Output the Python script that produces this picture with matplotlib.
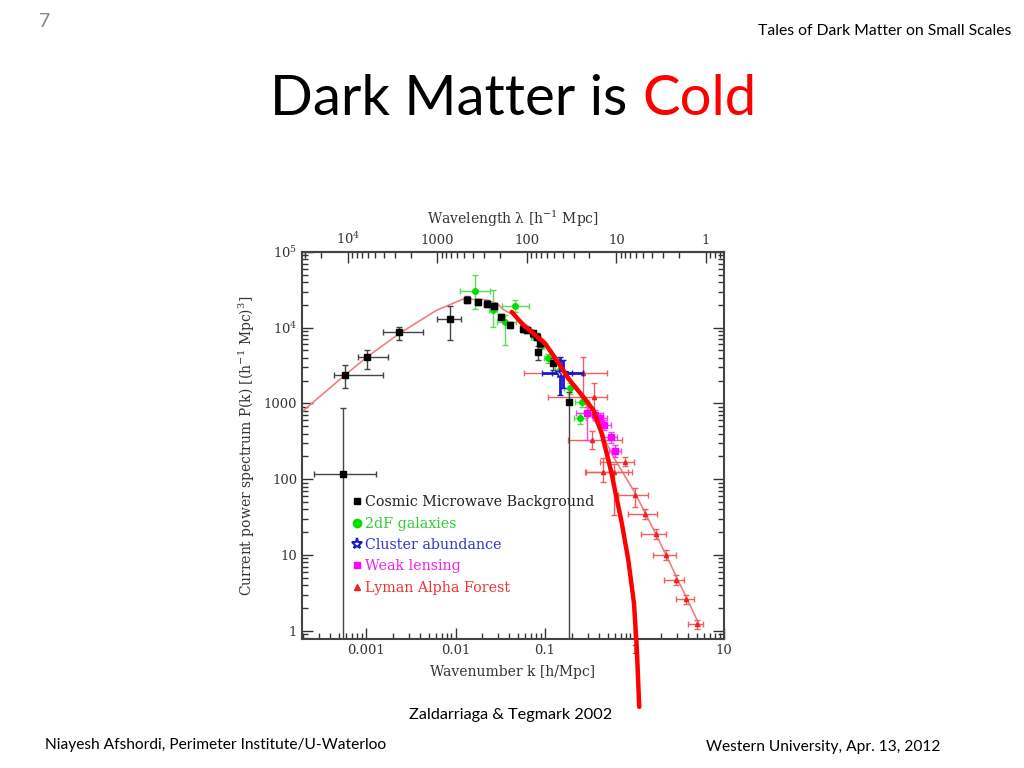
# Dark Matter is Cold slide: P(k) compilation (Zaldarriaga & Tegmark 2002) with hand-drawn red curve
import numpy as np
import matplotlib.pyplot as plt
from matplotlib.lines import Line2D
from matplotlib.ticker import FixedLocator, FixedFormatter

plt.rcParams['font.family'] = 'DejaVu Serif'
plt.rcParams['mathtext.fontset'] = 'dejavuserif'

# CMB points: k, P, k range, P range
cmb_k = [5.57e-4, 5.8e-4, 1.03e-3, 2.36e-3, 8.7e-3, 0.01355, 0.0177, 0.0223, 0.0272, 0.032,
         0.0406, 0.0563, 0.0625, 0.074, 0.0807, 0.088, 0.0843, 0.122, 0.187]
cmb_p = [118, 2380, 4050, 8650, 13200, 23500, 21900, 20800, 19200, 13900,
         10800, 9750, 9270, 8380, 7570, 6310, 4790, 3370, 1050]
cmb_klo = [2.64e-4, 4.4e-4, 8.2e-4, 1.56e-3, 6.27e-3, 0.0125, 0.0165, 0.021, 0.0256, 0.0302,
           0.0385, 0.0535, 0.0595, 0.0705, 0.077, 0.084, 0.080, 0.116, 0.178]
cmb_khi = [1.29e-3, 1.56e-3, 1.77e-3, 4.36e-3, 0.0114, 0.0147, 0.019, 0.0237, 0.0288, 0.034,
           0.0428, 0.059, 0.0655, 0.0775, 0.0845, 0.092, 0.088, 0.128, 0.196]
cmb_plo = [0.05, 1580, 2830, 6980, 6980, 21000, 19800, 18900, 17500, 12600,
           9800, 8900, 8400, 7600, 6800, 5600, 3700, 2800, 0.05]
cmb_phi = [859, 3230, 5150, 10200, 19600, 26000, 24200, 22900, 21000, 15300,
           11900, 10700, 10200, 9200, 8400, 7100, 5800, 4000, 1400]

# 2dF galaxies
gal_k = [0.0165, 0.026, 0.0357, 0.0462, 0.0625, 0.0773, 0.0918, 0.109, 0.147, 0.19, 0.257, 0.246]
gal_p = [30300, 17000, 11900, 19200, 9270, 7570, 5870, 3930, 2750, 1578, 1050, 634]
gal_klo = [0.0112, 0.0235, 0.029, 0.0333, 0.056, 0.070, 0.083, 0.098, 0.130, 0.165, 0.215, 0.21]
gal_khi = [0.0243, 0.029, 0.047, 0.066, 0.070, 0.086, 0.102, 0.122, 0.165, 0.22, 0.31, 0.29]
gal_plo = [17900, 10200, 5870, 16150, 8400, 6800, 5200, 3400, 2300, 1350, 900, 540]
gal_phi = [49300, 31200, 14600, 23300, 10200, 8400, 6600, 4500, 3300, 1850, 1230, 740]

# Cluster abundance
clu_k = [0.147, 0.16]
clu_p = [2490, 2490]
clu_klo = [0.092, 0.12]
clu_khi = [0.264, 0.20]
clu_plo = [1288, 1600]
clu_phi = [4120, 3800]

# Weak lensing
wl_k = [0.292, 0.362, 0.412, 0.46, 0.542, 0.605]
wl_p = [738, 701, 634, 518, 356, 235]
wl_klo = [0.22, 0.30, 0.34, 0.39, 0.46, 0.52]
wl_khi = [0.37, 0.44, 0.49, 0.54, 0.64, 0.71]
wl_plo = [328, 600, 540, 440, 300, 195]
wl_phi = [900, 820, 740, 610, 420, 280]

# Lyman alpha forest
ly_k = [0.268, 0.352, 0.335, 0.783, 0.448, 0.594, 1.01, 1.31, 1.73, 2.23, 2.89, 3.73, 4.94]
ly_p = [2490, 1222, 328, 170, 123, 124, 61.6, 34.4, 19.1, 10.0, 4.71, 2.6, 1.22]
ly_klo = [0.058, 0.109, 0.182, 0.412, 0.28, 0.284, 0.66, 0.84, 1.17, 1.59, 2.15, 2.9, 3.96]
ly_khi = [0.489, 0.489, 0.72, 1.0, 0.853, 0.93, 1.42, 1.78, 2.25, 2.93, 3.6, 4.66, 5.8]
ly_plo = [1222, 665, 250, 150, 92.5, 33.6, 43.3, 29.5, 16.5, 8.6, 4.05, 2.25, 1.07]
ly_phi = [4050, 1836, 430, 195, 188, 161, 75.7, 40, 22, 11.6, 5.5, 3.0, 1.4]

# thin model curve
model_k = [1.9e-4, 5.8e-4, 1.03e-3, 2.4e-3, 6.16e-3, 0.0121, 0.0204, 0.0291, 0.034, 0.045,
           0.07, 0.1, 0.15, 0.2, 0.3, 0.43, 0.6, 1.0, 1.73, 2.3, 5.4]
model_p = [767, 2360, 4120, 8500, 17000, 23800, 23500, 21000, 17500, 14500,
           9800, 6600, 3400, 1950, 880, 402, 185, 68, 19, 9.5, 1.15]

# thick red hand-drawn curve
cold_k = [0.0425, 0.0573, 0.1, 0.135, 0.182, 0.268, 0.347, 0.43, 0.489, 0.55, 0.605,
          0.719, 0.853, 0.987, 1.06, 1.13]
cold_p = [16150, 10800, 6200, 3720, 2140, 1222, 817, 402, 220, 125, 72,
          27, 8.57, 2.32, 0.615, 0.099]

top_ticks = [1e4, 1000, 100, 10, 1]
top_labels = ['$10^4$', '1000', '100', '10', '1']
y_ticks = [1, 10, 100, 1000, 1e4, 1e5]
y_labels = ['1', '10', '100', '1000', '$10^4$', '$10^5$']
x_ticks = [0.001, 0.01, 0.1, 1, 10]
x_labels = ['0.001', '0.01', '0.1', '1', '10']


def errs(v, lo, hi):
    v = np.array(v, float)
    return np.vstack([v - np.array(lo, float), np.array(hi, float) - v])


fig = plt.figure(figsize=(10.24, 7.68), dpi=100)
ax = fig.add_axes([0.295, 0.168, 0.412, 0.504])
ax.set_xscale('log')
ax.set_yscale('log')

ax.plot(model_k, model_p, color='#f08080', lw=1.2, zorder=2)

ax.errorbar(cmb_k, cmb_p, xerr=errs(cmb_k, cmb_klo, cmb_khi), yerr=errs(cmb_p, cmb_plo, cmb_phi),
            fmt='s', color='black', ecolor='#444444', ms=4, elinewidth=1, capsize=2, zorder=4)
ax.errorbar(gal_k, gal_p, xerr=errs(gal_k, gal_klo, gal_khi), yerr=errs(gal_p, gal_plo, gal_phi),
            fmt='o', color='#00dd00', ecolor='#55dd55', ms=4, elinewidth=1, capsize=2, zorder=3)
ax.errorbar(clu_k, clu_p, xerr=errs(clu_k, clu_klo, clu_khi), yerr=errs(clu_p, clu_plo, clu_phi),
            fmt='*', color='#1a1acc', mfc='white', ms=7, elinewidth=2, capsize=2, zorder=5)
ax.errorbar(wl_k, wl_p, xerr=errs(wl_k, wl_klo, wl_khi), yerr=errs(wl_p, wl_plo, wl_phi),
            fmt='s', color='#ff00ff', ecolor='#ee44ee', ms=4, elinewidth=1, capsize=2, zorder=4)
ax.errorbar(ly_k, ly_p, xerr=errs(ly_k, ly_klo, ly_khi), yerr=errs(ly_p, ly_plo, ly_phi),
            fmt='^', color='#ee2222', ecolor='#f06060', ms=3, elinewidth=1, capsize=2, zorder=3)

ax.plot(cold_k, cold_p, color='red', lw=3.2, solid_capstyle='round', solid_joinstyle='round',
        clip_on=False, zorder=10)

ax.set_xlim(1.93e-4, 10)
ax.set_ylim(0.78, 1e5)
ax.xaxis.set_major_locator(FixedLocator(x_ticks))
ax.xaxis.set_major_formatter(FixedFormatter(x_labels))
ax.yaxis.set_major_locator(FixedLocator(y_ticks))
ax.yaxis.set_major_formatter(FixedFormatter(y_labels))
ax.tick_params(which='both', direction='in', right=True, colors='#333333', labelsize=9.5)
ax.tick_params(which='major', length=8, width=1)
ax.tick_params(which='minor', length=4, width=1)
for s in ax.spines.values():
    s.set_linewidth(1.5)
    s.set_color('#444444')


def k2lam(k):
    k = np.asarray(k, float)
    with np.errstate(divide='ignore'):
        return 2 * np.pi / k


sec = ax.secondary_xaxis('top', functions=(k2lam, k2lam))
sec.xaxis.set_major_locator(FixedLocator(top_ticks))
sec.xaxis.set_major_formatter(FixedFormatter(top_labels))
sec.tick_params(which='both', direction='in', colors='#333333', labelsize=9.5)
sec.tick_params(which='major', length=8, width=1)
sec.tick_params(which='minor', length=4, width=1)
sec.spines['top'].set_linewidth(1.5)
sec.spines['top'].set_color('#444444')
sec.set_xlabel('Wavelength \u03bb [h$^{-1}$ Mpc]', color='#333333', fontsize=10, labelpad=5)

ax.set_xlabel('Wavenumber k [h/Mpc]', color='#333333', fontsize=10, labelpad=6)
ax.set_ylabel('Current power spectrum P(k) [(h$^{-1}$ Mpc)$^3$]', color='#333333', fontsize=10, labelpad=5)

handles = [
    Line2D([], [], ls='none', marker='s', color='black', ms=5),
    Line2D([], [], ls='none', marker='o', color='#00dd00', ms=6),
    Line2D([], [], ls='none', marker='*', mfc='white', mec='#1a1acc', ms=8, mew=1.5),
    Line2D([], [], ls='none', marker='s', color='#ff00ff', ms=4),
    Line2D([], [], ls='none', marker='^', color='#ee2222', ms=5),
]
labels = ['Cosmic Microwave Background', '2dF galaxies', 'Cluster abundance',
          'Weak lensing', 'Lyman Alpha Forest']
ax.legend(handles, labels, loc='upper left', bbox_to_anchor=(0.104, 0.39), frameon=False,
          fontsize=10.3, borderpad=0, handlelength=0.6, handletextpad=0.25, labelspacing=0.52,
          labelcolor=['#222222', '#33cc33', '#3333cc', '#ee22ee', '#ee3333'])

# slide text
fig.text(0.038, 0.972, '7', fontsize=14, color='#888888', family='Lato', ha='left', va='center')
fig.text(0.988, 0.960, 'Tales of Dark Matter on Small Scales', fontsize=11.3, color='black',
         family='Lato', ha='right', va='center')
t1 = fig.text(0.264, 0.870, 'Dark Matter is ', fontsize=40.5, color='black', family='Lato',
              ha='left', va='center')
fig.canvas.draw()
bb = t1.get_window_extent()
fig.text(bb.x1 / fig.bbox.width, 0.870, 'Cold', fontsize=40.5, color='red', family='Lato',
         ha='left', va='center')
fig.text(0.4985, 0.069, 'Zaldarriaga & Tegmark 2002', fontsize=11.7, color='black', family='Lato',
         ha='center', va='center')
fig.text(0.044, 0.030, 'Niayesh Afshordi, Perimeter Institute/U-Waterloo', fontsize=11.2,
         color='black', family='Lato', ha='left', va='center')
fig.text(0.918, 0.027, 'Western University, Apr. 13, 2012', fontsize=11.2, color='black',
         family='Lato', ha='right', va='center')

fig.savefig('out.png', dpi=100)
